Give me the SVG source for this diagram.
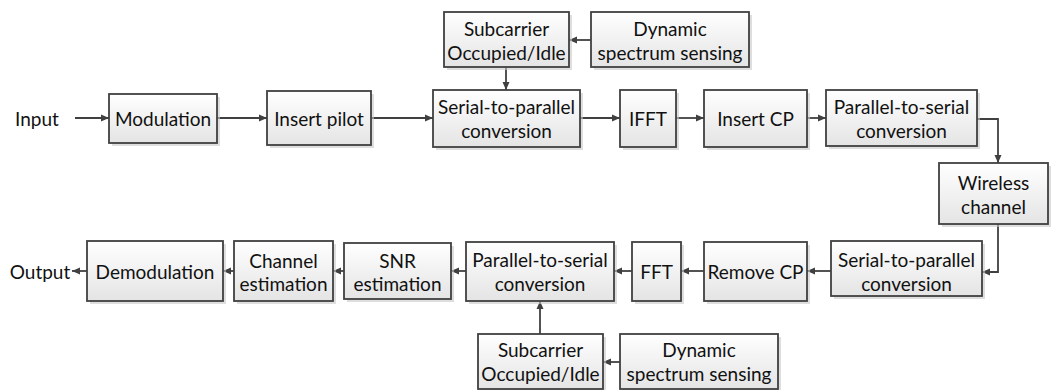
<svg xmlns="http://www.w3.org/2000/svg" width="1051" height="390" viewBox="0 0 1051 390">
<defs>
<linearGradient id="g" x1="0" y1="0" x2="0" y2="1">
<stop offset="0" stop-color="#ffffff"/>
<stop offset="1" stop-color="#e4e4e4"/>
</linearGradient>
<marker id="a" markerWidth="9" markerHeight="8" refX="8" refY="4" orient="auto" markerUnits="userSpaceOnUse">
<path d="M0,0.5 L8,4 L0,7.5 Z" fill="#404040"/>
</marker>
</defs>
<style>
.b rect.s{fill:#c8c8c8;opacity:0.6}
.b rect.m{fill:url(#g);stroke:#404040;stroke-width:1.8}
text{font-family:Lato,"Open Sans","Liberation Sans",sans-serif;font-size:19px;fill:#111111;text-anchor:middle;dominant-baseline:central}
.c path,.c line{stroke:#404040;stroke-width:1.8;fill:none;marker-end:url(#a)}
</style>
<rect width="1051" height="390" fill="#ffffff"/>
<text x="37" y="118">Input</text>
<text x="40" y="271">Output</text>
<g class="c">
<line x1="75" y1="118" x2="109" y2="118"/>
<line x1="217" y1="118" x2="267" y2="118"/>
<line x1="371" y1="118" x2="433" y2="118"/>
<line x1="580" y1="118" x2="620" y2="118"/>
<line x1="676" y1="118" x2="704" y2="118"/>
<line x1="807" y1="118" x2="826" y2="118"/>
<line x1="591" y1="40" x2="569" y2="40"/>
<line x1="506" y1="67" x2="506" y2="90"/>
<path d="M977,119 H998 V163"/>
<path d="M998,224 V272 H982"/>
<line x1="831" y1="271" x2="807" y2="271"/>
<line x1="704" y1="271" x2="681" y2="271"/>
<line x1="632" y1="271" x2="614" y2="271"/>
<line x1="466" y1="271" x2="451" y2="271"/>
<line x1="344" y1="271" x2="333" y2="271"/>
<line x1="234" y1="271" x2="223" y2="271"/>
<line x1="87" y1="271" x2="72" y2="271"/>
<line x1="620" y1="362" x2="603" y2="362"/>
<line x1="540" y1="334" x2="540" y2="301"/>
</g>
<g id="modulation" class="b"><rect class="s" x="112" y="97" width="108" height="49"/><rect class="m" x="109" y="94" width="108" height="49"/><text x="163" y="118">Modulation</text></g>
<g id="insertpilot" class="b"><rect class="s" x="270" y="94" width="104" height="54"/><rect class="m" x="267" y="91" width="104" height="54"/><text x="319" y="118">Insert pilot</text></g>
<g id="subcarrier1" class="b"><rect class="s" x="447" y="15" width="125" height="55"/><rect class="m" x="444" y="12" width="125" height="55"/><text x="506.5" y="28">Subcarrier</text><text x="506.5" y="52">Occupied/Idle</text></g>
<g id="dss1" class="b"><rect class="s" x="594" y="15" width="158" height="55"/><rect class="m" x="591" y="12" width="158" height="55"/><text x="670" y="28">Dynamic</text><text x="670" y="52">spectrum sensing</text></g>
<g id="s2p1" class="b"><rect class="s" x="436" y="93" width="147" height="57"/><rect class="m" x="433" y="90" width="147" height="57"/><text x="506.5" y="106">Serial-to-parallel</text><text x="506.5" y="130">conversion</text></g>
<g id="ifft" class="b"><rect class="s" x="623" y="93" width="56" height="57"/><rect class="m" x="620" y="90" width="56" height="57"/><text x="648" y="118">IFFT</text></g>
<g id="insertcp" class="b"><rect class="s" x="707" y="93" width="103" height="57"/><rect class="m" x="704" y="90" width="103" height="57"/><text x="755.5" y="118">Insert CP</text></g>
<g id="p2s1" class="b"><rect class="s" x="829" y="93" width="151" height="56"/><rect class="m" x="826" y="90" width="151" height="56"/><text x="901.5" y="106">Parallel-to-serial</text><text x="901.5" y="130">conversion</text></g>
<g id="wireless" class="b"><rect class="s" x="942" y="166" width="109" height="61"/><rect class="m" x="939" y="163" width="109" height="61"/><text x="993.5" y="182">Wireless</text><text x="993.5" y="206">channel</text></g>
<g id="s2p2" class="b"><rect class="s" x="834" y="244" width="151" height="55"/><rect class="m" x="831" y="241" width="151" height="55"/><text x="906.5" y="259">Serial-to-parallel</text><text x="906.5" y="283">conversion</text></g>
<g id="removecp" class="b"><rect class="s" x="707" y="245" width="103" height="59"/><rect class="m" x="704" y="242" width="103" height="59"/><text x="755.5" y="271">Remove CP</text></g>
<g id="fft" class="b"><rect class="s" x="635" y="245" width="49" height="59"/><rect class="m" x="632" y="242" width="49" height="59"/><text x="656.5" y="271">FFT</text></g>
<g id="p2s2" class="b"><rect class="s" x="469" y="245" width="148" height="59"/><rect class="m" x="466" y="242" width="148" height="59"/><text x="540" y="259">Parallel-to-serial</text><text x="540" y="283">conversion</text></g>
<g id="subcarrier2" class="b"><rect class="s" x="481" y="337" width="125" height="55"/><rect class="m" x="478" y="334" width="125" height="55"/><text x="540.5" y="349">Subcarrier</text><text x="540.5" y="373">Occupied/Idle</text></g>
<g id="dss2" class="b"><rect class="s" x="623" y="337" width="158" height="55"/><rect class="m" x="620" y="334" width="158" height="55"/><text x="699" y="349">Dynamic</text><text x="699" y="373">spectrum sensing</text></g>
<g id="snr" class="b"><rect class="s" x="347" y="246" width="107" height="56"/><rect class="m" x="344" y="243" width="107" height="56"/><text x="397.5" y="260">SNR</text><text x="397.5" y="283">estimation</text></g>
<g id="chest" class="b"><rect class="s" x="237" y="244" width="99" height="60"/><rect class="m" x="234" y="241" width="99" height="60"/><text x="283.5" y="260">Channel</text><text x="283.5" y="283">estimation</text></g>
<g id="demod" class="b"><rect class="s" x="90" y="244" width="136" height="60"/><rect class="m" x="87" y="241" width="136" height="60"/><text x="155" y="271">Demodulation</text></g>
</svg>
